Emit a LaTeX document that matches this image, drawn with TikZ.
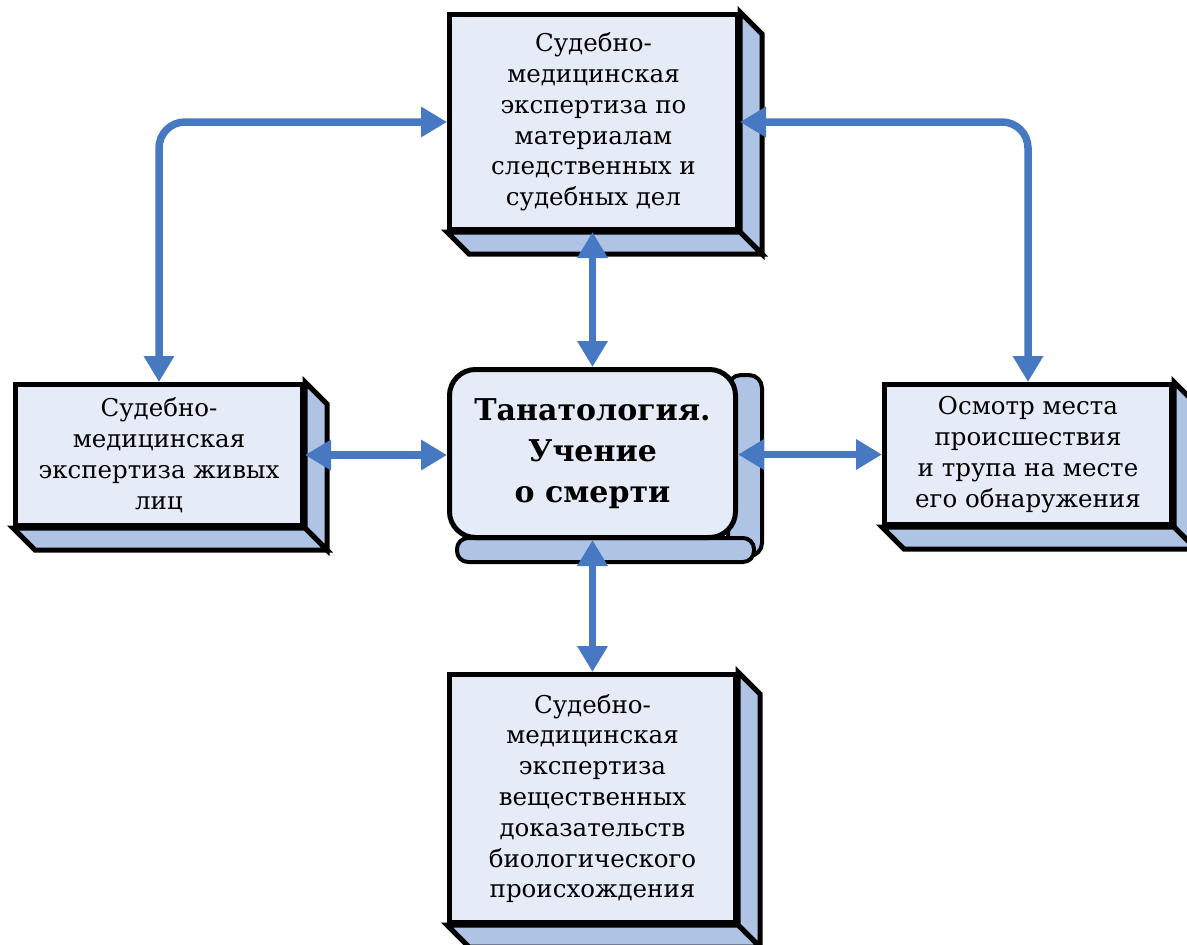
\documentclass[tikz,border=0pt]{standalone}
\usepackage{fontspec}
\setmainfont{DejaVu Serif}
\usetikzlibrary{arrows.meta,backgrounds,calc}
\definecolor{facec}{RGB}{230,236,247}
\definecolor{sidec}{RGB}{175,196,228}
\definecolor{arrc}{RGB}{70,121,194}
\tikzset{
  face/.style={draw=black,line width=5pt,fill=facec,align=center,inner sep=0pt,
    font=\fontsize{24.5}{30.8}\selectfont},
  sidef/.style={draw=black,line width=5pt,fill=sidec,line join=miter},
  conn/.style={draw=arrc,line width=7.5pt,{Triangle[length=26pt,width=29pt]}-{Triangle[length=26pt,width=29pt]}},
}
\newcommand\cubesides[1]{%
  \begin{scope}[on background layer]
    \path[sidef] (#1.north east) -- ++(22,22) -- ($(#1.south east)+(22,22)$) -- (#1.south east) -- cycle;
    \path[sidef] (#1.south west) -- ++(22,22) -- ($(#1.south east)+(22,22)$) -- (#1.south east) -- cycle;
  \end{scope}}
\begin{document}
\begin{tikzpicture}[x=1pt,y=-1pt]
\useasboundingbox (0,0) rectangle (1187,945);
% boxes
\node[face,minimum width=288,minimum height=215] (top) at (593.5,122)
  {Судебно-\\медицинская\\экспертиза по\\материалам\\следственных и\\судебных дел};
\node[face,minimum width=287,minimum height=141] (left) at (159,455)
  {Судебно-\\медицинская\\экспертиза живых\\лиц};
\node[face,minimum width=287,minimum height=140] (right) at (1028,454.5)
  {Осмотр места\\происшествия\\и трупа на месте\\его обнаружения};
\node[face,minimum width=286,minimum height=248] (bot) at (592.5,798.5)
  {Судебно-\\медицинская\\экспертиза\\вещественных\\доказательств\\биологического\\происхождения};
\cubesides{top}
\cubesides{left}
\cubesides{right}
\cubesides{bot}
% center
\path[sidef,line width=4pt,rounded corners=13] (728,375) rectangle (762,556);
\path[sidef,line width=4pt,rounded corners=11] (457,538) rectangle (754,562);
\node[face,rounded corners=26,minimum width=286,minimum height=168,
  font=\fontsize{30}{41}\selectfont\bfseries] (ctr) at (592.5,453.5)
  {Танатология.\\Учение\\о смерти};
% connectors
\draw[conn] (top.south -| ctr.north) -- (ctr.north);
\draw[conn] (ctr.south) -- (bot.north -| ctr.south);
\draw[conn] (left.east) -- (left.east -| ctr.west);
\draw[conn] (ctr.east |- right.west) -- (right.west);
\draw[conn,rounded corners=26] (left.north) |- (top.west);
\draw[conn,rounded corners=26] (top.east) -| (right.north);
\end{tikzpicture}
\end{document}
